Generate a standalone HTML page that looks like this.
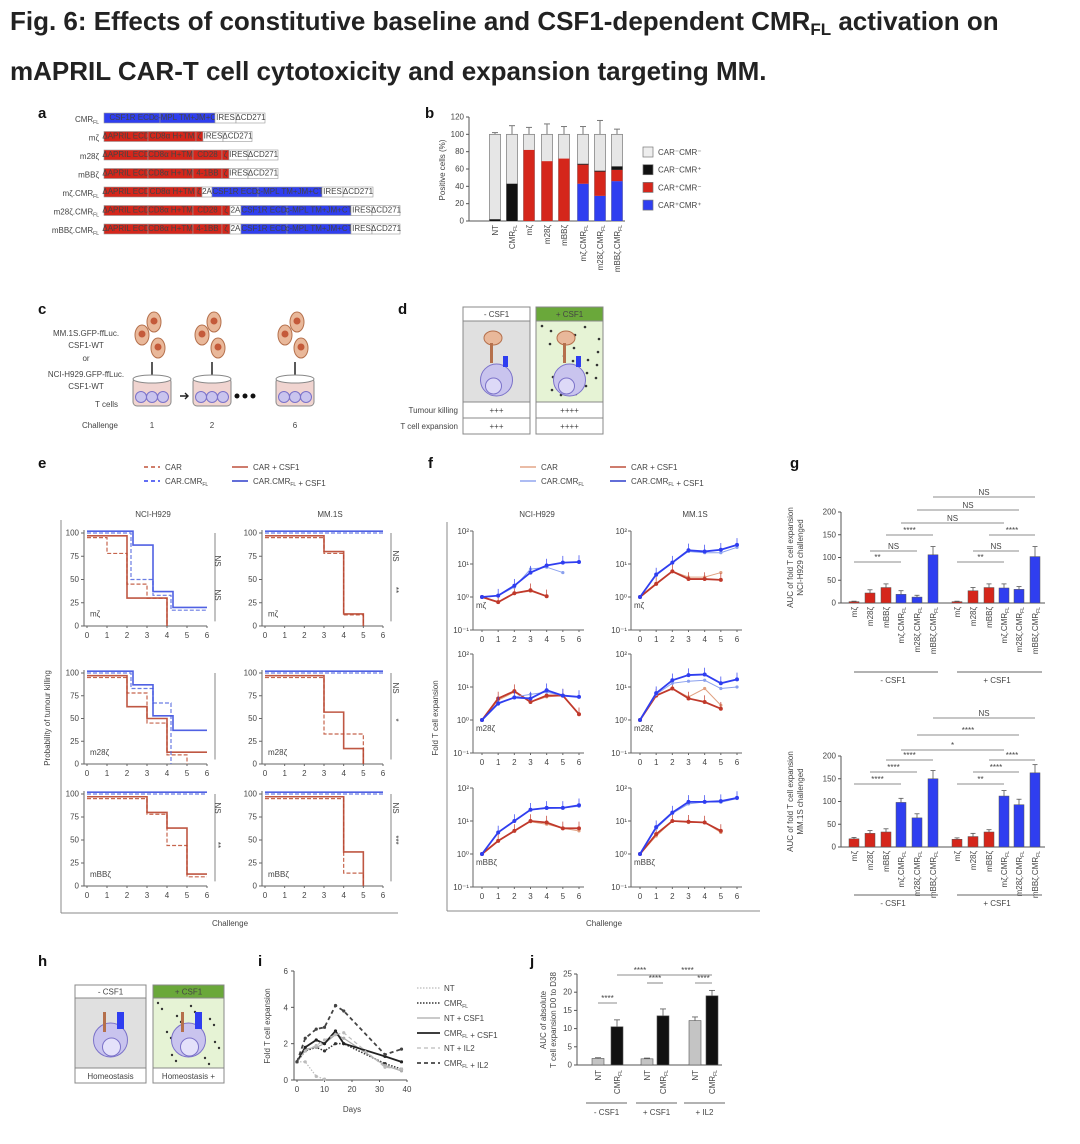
<!DOCTYPE html>
<html><head><meta charset="utf-8"><style>
body{margin:0;background:#fff;width:1080px;height:1144px;overflow:hidden}
svg{display:block;font-family:"Liberation Sans",sans-serif}
.t{font-size:8px;fill:#444}
.pl{font-size:15px;font-weight:bold;fill:#111}
</style></head><body>
<svg id="fig" width="1080" height="1144" viewBox="0 0 1080 1144" xmlns="http://www.w3.org/2000/svg">
<text x="10" y="30" font-size="26" font-weight="bold" fill="#222">Fig. 6: Effects of constitutive baseline and CSF1-dependent CMR<tspan font-size="17" dy="5">FL</tspan><tspan dy="-5"> activation on</tspan></text>
<text x="10" y="80" font-size="26" font-weight="bold" fill="#222">mAPRIL CAR-T cell cytotoxicity and expansion targeting MM.</text>
<text class="pl" x="38" y="118">a</text>
<text class="pl" x="425" y="118">b</text>
<text class="pl" x="38" y="314">c</text>
<text class="pl" x="398" y="314">d</text>
<text class="pl" x="38" y="468">e</text>
<text class="pl" x="428" y="468">f</text>
<text class="pl" x="790" y="468">g</text>
<text class="pl" x="38" y="966">h</text>
<text class="pl" x="258" y="966">i</text>
<text class="pl" x="530" y="966">j</text>
<g id="root"></g>
</svg>
<script>
// ---------- data ----------
const constructNames = ["CMRFL","mζ","m28ζ","mBBζ","mζ.CMRFL","m28ζ.CMRFL","mBBζ.CMRFL"];
const bCategories = ["NT","CMRFL","mζ","m28ζ","mBBζ","mζ.CMRFL","m28ζ.CMRFL","mBBζ.CMRFL"];
const bBlue = [0,0,0,0,0,43,29,46];
const bRed = [0,0,82,69,72,22,28,13];
const bBlack = [2,43,0,0,0,1,1,4];
const bGrayTotal = [100,100,100,100,100,100,100,100];
const bErr = [2,10,8,12,9,9,16,6];
const bTicks = [0,20,40,60,80,100,120];

const kmTicksX = [0,1,2,3,4,5,6];
const kmTicksY = [0,25,50,75,100];
const km1_car = [[0,95],[1,78],[2,45],[3,30],[4,0]];
const km1_carCsf = [[0,97],[2,30],[4,0]];
const km1_cmr = [[0,100],[2.2,50],[3.3,33],[4.2,17]];
const km1_cmrCsf = [[0,102],[2.3,87],[3.3,37],[4.3,20]];
const km2_car = [[0,95],[3,78],[4,12],[5,0]];
const km2_carCsf = [[0,97],[3,80],[4,13],[5,0]];
const km2_cmr = [[0,100]];
const km2_cmrCsf = [[0,102]];
const km3_car = [[0,95],[2,78],[3,45],[4,10],[5,0]];
const km3_carCsf = [[0,97],[2,63],[3,50],[4,13]];
const km3_cmr = [[0,100],[2.2,83],[3.3,67],[4.2,0]];
const km3_cmrCsf = [[0,102],[2.3,87],[3.3,53],[4.3,37]];
const km4_car = [[0,95],[3,33],[5,0]];
const km4_carCsf = [[0,97],[3,57],[4,17],[5,0]];
const km4_cmr = [[0,100]];
const km4_cmrCsf = [[0,102]];
const km5_car = [[0,95],[3,78],[4,44],[5,10]];
const km5_carCsf = [[0,97],[3,80],[4,63],[5,13]];
const km5_cmr = [[0,100]];
const km5_cmrCsf = [[0,102]];
const km6_car = [[0,95],[4,14],[5,0]];
const km6_carCsf = [[0,97],[4,37],[5,0]];
const km6_cmr = [[0,100]];
const km6_cmrCsf = [[0,102]];

const fTicksY = ["10⁻¹","10⁰","10¹","10²"];
const f1_car = [1,0.7,1.3,1.5,1.05];
const f1_carCsf = [1,0.7,1.3,1.6,1.05];
const f1_cmr = [1,1.1,2,7,8,5.5];
const f1_cmrCsf = [1,1.1,2.2,5.5,9,11,11.5];
const f2_car = [1,2.5,6,4,4,5.5];
const f2_carCsf = [1,2.5,6,3.5,3.5,3.3];
const f2_cmr = [1,4.5,11,24,22,22,32];
const f2_cmrCsf = [1,4.8,11,26,24,27,38];
const f3_car = [1,4,7,3.5,5,5.5,1.5];
const f3_carCsf = [1,4.5,7.5,3.5,5.5,5.5,1.5];
const f3_cmr = [1,3,5,6,7,5.5,5];
const f3_cmrCsf = [1,3.2,4.8,4.5,8,5.5,5];
const f4_car = [1,5.5,9,5,9,2.8];
const f4_carCsf = [1,5.5,9,4.5,3.5,2.2];
const f4_cmr = [1,6,13,15,16,9,10];
const f4_cmrCsf = [1,6.5,16,23,24,13,17];
const f5_car = [1,2.5,5,9.5,8,6,5];
const f5_carCsf = [1,2.5,5,10,9,6,6];
const f5_cmr = [1,4.5,10,22,24,25,28];
const f5_cmrCsf = [1,4.5,10,22,25,25,30];
const f6_car = [1,3.5,10,9,9,4.5];
const f6_carCsf = [1,4,10,9.5,9,5];
const f6_cmr = [1,6,17,33,38,37,48];
const f6_cmrCsf = [1,6.5,18,38,38,40,50];

const gCategories = ["mζ","m28ζ","mBBζ","mζ.CMRFL","m28ζ.CMRFL","mBBζ.CMRFL"];
const gTicks = [0,50,100,150,200];
const gNciMinus = [3,22,34,19,13,106];
const gNciPlus = [3,27,34,33,30,102];
const gNciErrMinus = [1,7,8,8,4,18];
const gNciErrPlus = [1,7,8,9,6,22];
const gMmMinus = [18,30,33,98,64,150];
const gMmPlus = [17,23,33,112,93,163];
const gMmErrMinus = [3,6,7,9,9,18];
const gMmErrPlus = [3,7,5,12,12,18];

const iDays = [0,3,7,10,14,17,32,38];
const iTicksX = [0,10,20,30,40];
const iTicksY = [0,2,4,6];
const iNT = [1,1,0.2,0.05];
const iCMR = [1,1.6,1.8,1.6,2,2,0.9,0.6];
const iNTcsf = [1,1.7,1.8,2,2.5,2.3,0.8,0.5];
const iCMRcsf = [1,1.8,2.2,2,2.7,2,1.3,1.0];
const iNTil2 = [1,1.6,1.9,2.2,2.5,2.6,0.7,0.6];
const iCMRil2 = [1,2.3,2.8,2.9,4.1,3.8,1.4,1.7];

const jCategories = ["NT","CMRFL","NT","CMRFL","NT","CMRFL"];
const jValues = [1.8,10.5,1.7,13.5,12.2,19];
const jErr = [0.2,1.9,0.2,1.9,1.0,1.5];
const jTicks = [0,5,10,15,20,25];

// ---------- helpers ----------
const NS="http://www.w3.org/2000/svg";
const root=document.getElementById('root');
function mk(tag,attrs,name,parent){
  const el=document.createElementNS(NS,tag);
  for(const k in attrs) el.setAttribute(k,attrs[k]);
  
  
  (parent||root).appendChild(el);return el;
}
function txt(x,y,s,name,o){o=o||{};const e=mk('text',Object.assign({x:x,y:y,class:'t'},o),name);e.textContent=s;return e;}
function line(x1,y1,x2,y2,name,st,w,dash){return mk('line',{x1,y1,x2,y2,stroke:st||'#666','stroke-width':w||1,'stroke-dasharray':dash||'none'},name);}
function labelSub(el,s){
  el.textContent='';
  const parts=s.split("CMRFL");
  parts.forEach((p,i)=>{el.appendChild(document.createTextNode(p));
    if(i<parts.length-1){el.appendChild(document.createTextNode("CMR"));const t=document.createElementNS(NS,'tspan');t.setAttribute('font-size','5');t.setAttribute('dy','2');t.textContent='FL';el.appendChild(t);const t2=document.createElementNS(NS,'tspan');t2.setAttribute('dy','-2');t2.textContent='';el.appendChild(t2);}});
}
const RED='#d5261b', BLUE='#2f3ef0';

// ---------- panel a ----------
const aSegs=[
 [[BLUE,'CSF1R ECD',104,160],[BLUE,'c-MPL TM+JM+CT',160,215],['#fff','IRES',215,236],['#fff','ΔCD271',236,265]],
 [[RED,'ΔAPRIL ECD',104,148],[RED,'CD8α H+TM',148,196],[RED,'ζ',196,203],['#fff','IRES',203,223],['#fff','ΔCD271',223,252]],
 [[RED,'ΔAPRIL ECD',104,148],[RED,'CD8α H+TM',148,193],[RED,'CD28',193,222],[RED,'ζ',222,229],['#fff','IRES',229,248],['#fff','ΔCD271',248,278]],
 [[RED,'ΔAPRIL ECD',104,148],[RED,'CD8α H+TM',148,193],[RED,'4-1BB',193,222],[RED,'ζ',222,229],['#fff','IRES',229,248],['#fff','ΔCD271',248,278]],
 [[RED,'ΔAPRIL ECD',104,148],[RED,'CD8α H+TM',148,196],[RED,'ζ',196,202],['#fff','2A',202,212],[BLUE,'CSF1R ECD',212,258],[BLUE,'c-MPL TM+JM+CT',258,322],['#fff','IRES',322,343],['#fff','ΔCD271',343,373]],
 [[RED,'ΔAPRIL ECD',104,148],[RED,'CD8α H+TM',148,193],[RED,'CD28',193,222],[RED,'ζ',222,230],['#fff','2A',230,241],[BLUE,'CSF1R ECD',241,287],[BLUE,'c-MPL TM+JM+CT',287,351],['#fff','IRES',351,372],['#fff','ΔCD271',372,400]],
 [[RED,'ΔAPRIL ECD',104,148],[RED,'CD8α H+TM',148,193],[RED,'4-1BB',193,222],[RED,'ζ',222,230],['#fff','2A',230,241],[BLUE,'CSF1R ECD',241,287],[BLUE,'c-MPL TM+JM+CT',287,351],['#fff','IRES',351,372],['#fff','ΔCD271',372,400]]
];
constructNames.forEach((n,i)=>{
  const y=118+i*18.5;
  const t=txt(99,y+4,'', 'construct-label',{'text-anchor':'end','font-size':'10'});labelSub(t,n);
  aSegs[i].forEach(s=>{
    mk('rect',{x:s[2],y:y-5,width:s[3]-s[2],height:10,fill:s[0],stroke:'#999','stroke-width':0.6},'construct-segment');
    txt((s[2]+s[3])/2,y+2,s[1],'segment-label',{'text-anchor':'middle','font-size':'4.5',fill:s[0]=='#fff'?'#555':'#e6a0a0'});
  });
});

// ---------- panel b ----------
(function(){
  const x0=469,yb=221,yt=117,xs=[495,512,529,547,564,583,600,617],bw=11;
  const Y=v=>yb-(v/120)*(yb-yt);
  line(x0,yt,x0,yb,'b-y-axis','#555');line(x0,yb,625,yb,'b-x-axis','#555');
  bTicks.forEach(v=>{line(x0-3,Y(v),x0,Y(v),'b-y-tick','#555');txt(x0-5,Y(v)+2.5,String(v),'b-y-tick-label',{'text-anchor':'end','font-size':'7'});});
  txt(0,0,'Positive cells (%)','b-y-axis-title',{transform:`translate(445,170) rotate(-90)`,'text-anchor':'middle','font-size':'8'});
  bCategories.forEach((c,i)=>{
    const x=xs[i];
    mk('rect',{x:x-bw/2,y:Y(bGrayTotal[i]),width:bw,height:yb-Y(bGrayTotal[i]),fill:'#e6e6e6',stroke:'#777','stroke-width':0.7},'b-bar-gray');
    let acc=0;
    [[bBlue[i],BLUE,'b-bar-blue'],[bRed[i],RED,'b-bar-red'],[bBlack[i],'#111','b-bar-black']].forEach(s=>{
      if(s[0]>0){mk('rect',{x:x-bw/2,y:Y(acc+s[0]),width:bw,height:Y(acc)-Y(acc+s[0]),fill:s[1]},s[2]);acc+=s[0];}
    });
    line(x,Y(100),x,Y(100+bErr[i]),'b-error-bar','#777');line(x-3,Y(100+bErr[i]),x+3,Y(100+bErr[i]),'b-error-cap','#777');
    const t=txt(0,0,'', 'b-category-label',{transform:`translate(${x+3},${yb+4}) rotate(-90)`,'text-anchor':'end','font-size':'7'});labelSub(t,c);
  });
  const leg=[['#eee','CAR⁻CMR⁻'],['#111','CAR⁻CMR⁺'],[RED,'CAR⁺CMR⁻'],[BLUE,'CAR⁺CMR⁺']];
  leg.forEach((l,i)=>{const y=152+i*17.7;mk('rect',{x:643,y:y-5,width:10,height:10,fill:l[0],stroke:'#777','stroke-width':0.7},'b-legend-swatch');
    txt(658,y+3,l[1],'b-legend-entry',{'font-size':'8'});});
})();

// ---------- panel c ----------
(function(){
  ['MM.1S.GFP-ffLuc.','CSF1-WT','or','NCI-H929.GFP-ffLuc.','CSF1-WT','T cells'].forEach((s,i)=>{
    txt(i==5?118:86,[336,348,361,377,389,407][i],s,'c-text',{'text-anchor':i==5?'end':'middle','font-size':'7.5'});});
  txt(118,428,'Challenge','c-challenge-label',{'text-anchor':'end','font-size':'7.5'});
  [[152,'1'],[212,'2'],[295,'6']].forEach((d,k)=>{
    const cx=d[0];
    [[cx-10,335],[cx+2,322],[cx+6,348]].forEach(p=>{mk('ellipse',{cx:p[0],cy:p[1],rx:7,ry:10,fill:'#e9b89a',stroke:'#b5704c'},'c-tumour-cell');mk('circle',{cx:p[0],cy:p[1]-1,r:3.5,fill:'#c45a3a'},'c-tumour-nucleus');});
    line(cx,362,cx,376,'c-arrow','#222',1.5);
    mk('rect',{x:cx-19,y:378,width:38,height:28,rx:4,fill:'#f0d4d0',stroke:'#888'},'c-dish');
    mk('ellipse',{cx:cx,cy:379,rx:19,ry:4,fill:'#fff',stroke:'#888'},'c-dish-rim');
    [-11,0,11].forEach(o=>mk('circle',{cx:cx+o,cy:397,r:5.5,fill:'#c9c4ee',stroke:'#7b72c9'},'c-t-cell'));
    txt(cx,428,d[1],'c-challenge-number',{'text-anchor':'middle','font-size':'7.5'});
  });
  mk('path',{d:'M180 396 l8 0 m-3 -3 l3 3 l-3 3',stroke:'#222',fill:'none','stroke-width':1.4},'c-arrow-right');
  [237,245,253].forEach(x=>mk('circle',{cx:x,cy:396,r:2.5,fill:'#111'},'c-ellipsis-dot'));
})();

// ---------- panel d ----------
(function(){
  [[463,'- CSF1','#fff','#e0e0e0','#555'],[536,'+ CSF1','#6aa83a','#e6f3d5','#fff']].forEach((b,k)=>{
    const x=b[0],w=67;
    mk('rect',{x:x,y:307,width:w,height:14,fill:b[2],stroke:'#888'},'d-header');
    txt(x+w/2,317,b[1],'d-header-text',{'text-anchor':'middle','font-size':'7.5',fill:b[4]});
    mk('rect',{x:x,y:321,width:w,height:81,fill:b[3],stroke:'#888'},'d-illustration');
    if(k==1){for(let i=0;i<22;i++){mk('circle',{cx:x+6+(i*23)%58,cy:326+(i*17)%72,r:1.3,fill:'#333'},'d-csf1-dot');}}
    mk('circle',{cx:x+w/2,cy:380,r:16,fill:'#c9c4ee',stroke:'#7b72c9'},'d-t-cell');
    mk('circle',{cx:x+w/2-3,cy:386,r:8,fill:'#ddd9f7',stroke:'#7b72c9'},'d-t-cell-nucleus');
    mk('ellipse',{cx:x+30,cy:338,rx:9,ry:7,fill:'#e9b89a',stroke:'#b5704c'},'d-tumour-cell');
    mk('rect',{x:x+27,y:343,width:3,height:20,fill:'#b5704c'},'d-car');
    mk('rect',{x:x+40,y:356,width:5,height:11,fill:BLUE},'d-cmr');
    mk('rect',{x:x,y:402,width:w,height:16,fill:'#fff',stroke:'#888'},'d-row-killing');
    mk('rect',{x:x,y:418,width:w,height:16,fill:'#fff',stroke:'#888'},'d-row-expansion');
    txt(x+w/2,413,k?'++++':'+++','d-killing-value',{'text-anchor':'middle','font-size':'7'});
    txt(x+w/2,429,k?'++++':'+++','d-expansion-value',{'text-anchor':'middle','font-size':'7'});
  });
  txt(458,413,'Tumour killing','d-row-label',{'text-anchor':'end','font-size':'7.5'});
  txt(458,429,'T cell expansion','d-row-label',{'text-anchor':'end','font-size':'7.5'});
})();

// ---------- legends e/f ----------
function legendEF(x1,x2,dashCar,light){
  const ys=[467,481];
  const cars=[[x1,ys[0],'#c0543a',dashCar,'CAR'],[x1,ys[1],BLUE,dashCar,'CAR.CMRFL'],[x2,ys[0],'#b8452f','none','CAR + CSF1'],[x2,ys[1],'#2030c8','none','CAR.CMRFL + CSF1']];
  cars.forEach((c,i)=>{line(c[0],c[1],c[0]+16,c[1],'legend-line',light&&i<2?(i?'#8aa0ee':'#e0a080'):c[2],1.4,c[3]);
    const t=txt(c[0]+21,c[1]+3,'','legend-entry',{'font-size':'8'});labelSub(t,c[4]);});
}
legendEF(144,232,'4 3',false);
legendEF(520,610,'none',true);

// ---------- panel e ----------
(function(){
  const cols=[[87,207],[265,383]], rows=[[533,626],[673,764],[794,886]];
  const data=[[km1_car,km1_carCsf,km1_cmr,km1_cmrCsf],[km2_car,km2_carCsf,km2_cmr,km2_cmrCsf],[km3_car,km3_carCsf,km3_cmr,km3_cmrCsf],[km4_car,km4_carCsf,km4_cmr,km4_cmrCsf],[km5_car,km5_carCsf,km5_cmr,km5_cmrCsf],[km6_car,km6_carCsf,km6_cmr,km6_cmrCsf]];
  const labels=['mζ','m28ζ','mBBζ'];
  const styles=[['#c0543a','4 2',1.2],['#b8452f','none',1.6],['#5a6ee0','4 2',1.2],['#3d50e0','none',1.6]];
  txt(153,517,'NCI-H929','e-column-title',{'text-anchor':'middle','font-size':'8'});
  txt(330,517,'MM.1S','e-column-title',{'text-anchor':'middle','font-size':'8'});
  line(61,520,61,913,'e-frame-left','#888');line(61,913,398,913,'e-frame-bottom','#888');
  txt(0,0,'Probability of tumour killing','e-y-axis-title',{transform:'translate(50,718) rotate(-90)','text-anchor':'middle','font-size':'8.5'});
  txt(230,926,'Challenge','e-x-axis-title',{'text-anchor':'middle','font-size':'8.5'});
  for(let r=0;r<3;r++)for(let c=0;c<2;c++){
    const [xa,xb]=cols[c],[yt,yb]=rows[r];
    const X=v=>xa+v/6*(xb-xa), Y=v=>yb-v/100*(yb-yt);
    line(xa-3,Y(0),xb,Y(0),'e-x-axis','#666');line(xa-3,Y(0),xa-3,Y(100)-3,'e-y-axis','#666');
    kmTicksX.forEach(v=>{line(X(v),Y(0),X(v),Y(0)+2,'e-x-tick','#666');txt(X(v),Y(0)+12,String(v),'e-x-tick-label',{'text-anchor':'middle','font-size':'7.5'});});
    kmTicksY.forEach(v=>{line(xa-6,Y(v),xa-3,Y(v),'e-y-tick','#666');txt(xa-8,Y(v)+2.5,String(v),'e-y-tick-label',{'text-anchor':'end','font-size':'7'});});
    txt(xa+3,Y(10),labels[r],'e-construct-label',{'font-size':'8'});
    data[r*2+c].forEach((s,k)=>{
      let d=`M${X(s[0][0])} ${Y(s[0][1])}`;
      for(let i=1;i<s.length;i++){d+=` H${X(s[i][0])} V${Y(s[i][1])}`;}
      if(s[s.length-1][1]>0) d+=` H${X(6)}`;
      mk('path',{d:d,fill:'none',stroke:styles[k][0],'stroke-dasharray':styles[k][1],'stroke-width':styles[k][2],opacity:0.9},'e-km-curve');
    });
    line(xb+8,Y(100),xb+8,Y(5),'e-significance-bracket','#666',0.8);
  }
  [[215,561,'NS'],[215,595,'NS'],[393,556,'NS'],[393,590,'**'],[393,688,'NS'],[393,720,'*'],[393,808,'NS'],[393,840,'***'],[215,808,'NS'],[215,845,'**']].forEach(s=>{
    txt(0,0,s[2],'e-significance-label',{transform:`translate(${s[0]},${s[1]}) rotate(90)`,'text-anchor':'middle','font-size':'7'});});
})();

// ---------- panel f ----------
(function(){
  const cols=[[482,579],[640,737]], rows=[[531,630],[654,753],[788,887]];
  const data=[[f1_car,f1_carCsf,f1_cmr,f1_cmrCsf],[f2_car,f2_carCsf,f2_cmr,f2_cmrCsf],[f3_car,f3_carCsf,f3_cmr,f3_cmrCsf],[f4_car,f4_carCsf,f4_cmr,f4_cmrCsf],[f5_car,f5_carCsf,f5_cmr,f5_cmrCsf],[f6_car,f6_carCsf,f6_cmr,f6_cmrCsf]];
  const labels=['mζ','m28ζ','mBBζ'];
  const styles=[['#e0a080',1],['#c0392b',1.8],['#8aa0ee',1],['#2f3ef0',1.8]];
  txt(537,517,'NCI-H929','f-column-title',{'text-anchor':'middle','font-size':'8'});
  txt(695,517,'MM.1S','f-column-title',{'text-anchor':'middle','font-size':'8'});
  line(447,522,447,911,'f-frame-left','#888');line(447,911,760,911,'f-frame-bottom','#888');
  txt(0,0,'Fold T cell expansion','f-y-axis-title',{transform:'translate(438,718) rotate(-90)','text-anchor':'middle','font-size':'8.5'});
  txt(604,926,'Challenge','f-x-axis-title',{'text-anchor':'middle','font-size':'8.5'});
  for(let r=0;r<3;r++)for(let c=0;c<2;c++){
    const [xa,xb]=cols[c],[yt,yb]=rows[r];
    const X=v=>xa+v/6*(xb-xa), Y=v=>yt+(2-Math.log10(v))/3*(yb-yt);
    line(xa-9,yb,xb+5,yb,'f-x-axis','#666');line(xa-9,yb,xa-9,yt,'f-y-axis','#666');
    kmTicksX.forEach(v=>{line(X(v),yb,X(v),yb+2,'f-x-tick','#666');txt(X(v),yb+12,String(v),'f-x-tick-label',{'text-anchor':'middle','font-size':'7.5'});});
    fTicksY.forEach((s,i)=>{const yy=yb-i*(yb-yt)/3;line(xa-12,yy,xa-9,yy,'f-y-tick','#666');txt(xa-13,yy+3,s,'f-y-tick-label',{'text-anchor':'end','font-size':'7'});});
    txt(xa-6,yb-22,labels[r],'f-construct-label',{'font-size':'8'});
    data[r*2+c].forEach((s,k)=>{
      const pts=s.map((v,i)=>`${X(i)},${Y(v)}`).join(' ');
      mk('polyline',{points:pts,fill:'none',stroke:styles[k][0],'stroke-width':styles[k][1]},'f-series-line');
      s.forEach((v,i)=>{mk('circle',{cx:X(i),cy:Y(v),r:k%2?2:1.6,fill:styles[k][0]},'f-series-point');
        if(i>0&&k%2){line(X(i),Y(v),X(i),Y(v*1.6),'f-error-bar',styles[k][0],0.7);}});
    });
  }
})();

// ---------- panel g ----------
function gChart(yb,yt,minus,plus,errM,errP,sigs,title,gOff){
  const x0=841,xs=[854,870,886,901,917,933,957,973,989,1004,1019,1035],bw=10;
  const Y=v=>yb-v/200*(yb-yt);
  line(x0,yt,x0,yb,'g-y-axis','#555');line(x0,yb,1045,yb,'g-x-axis','#555');
  gTicks.forEach(v=>{line(x0-3,Y(v),x0,Y(v),'g-y-tick','#555');txt(x0-5,Y(v)+2.5,String(v),'g-y-tick-label',{'text-anchor':'end','font-size':'7'});});
  txt(0,0,title[0],'g-y-axis-title',{transform:`translate(793,${(yt+yb)/2}) rotate(-90)`,'text-anchor':'middle','font-size':'7'});
  txt(0,0,title[1],'g-y-axis-title',{transform:`translate(803,${(yt+yb)/2}) rotate(-90)`,'text-anchor':'middle','font-size':'7'});
  const vals=minus.concat(plus), errs=errM.concat(errP);
  vals.forEach((v,i)=>{
    const col=(i%6)<3?RED:BLUE;
    mk('rect',{x:xs[i]-bw/2,y:Y(v),width:bw,height:yb-Y(v),fill:col,stroke:'#555','stroke-width':0.5},'g-bar');
    line(xs[i],Y(v),xs[i],Y(v+errs[i]),'g-error-bar','#555',0.8);line(xs[i]-2.5,Y(v+errs[i]),xs[i]+2.5,Y(v+errs[i]),'g-error-cap','#555',0.8);
    const t=txt(0,0,'','g-category-label',{transform:`translate(${xs[i]+3},${yb+4}) rotate(-90)`,'text-anchor':'end','font-size':'7'});labelSub(t,gCategories[i%6]);
  });
  sigs.forEach(s=>{line(xs[s[0]],s[2],xs[s[1]],s[2],'g-significance-line','#666',0.8);txt((xs[s[0]]+xs[s[1]])/2,s[2]-2,s[3],'g-significance-label',{'text-anchor':'middle','font-size':'7.5'});});
  const gl=yb+gOff;
  line(xs[0],gl,xs[5]+5,gl,'g-group-line','#666');line(xs[6],gl,1042,gl,'g-group-line','#666');
  txt(893,gl+11,'- CSF1','g-group-label',{'text-anchor':'middle','font-size':'7.5'});
  txt(997,gl+11,'+ CSF1','g-group-label',{'text-anchor':'middle','font-size':'7.5'});
}
gChart(603,512,gNciMinus,gNciPlus,gNciErrMinus,gNciErrPlus,
 [[5,11,497,'NS'],[4,10,510,'NS'],[3,9,523,'NS'],[2,5,535,'****'],[8,11,535,'****'],[1,4,551,'NS'],[7,10,551,'NS'],[0,3,562,'**'],[6,9,562,'**']],
 ['AUC of fold T cell expansion','NCI-H929 challenged'],69);
gChart(847,756,gMmMinus,gMmPlus,gMmErrMinus,gMmErrPlus,
 [[5,11,718,'NS'],[4,10,735,'****'],[3,9,750,'*'],[2,5,760,'****'],[8,11,760,'****'],[1,4,772,'****'],[7,10,772,'****'],[0,3,784,'****'],[6,9,784,'**']],
 ['AUC of fold T cell expansion','MM.1S challenged'],48);

// ---------- panel h ----------
(function(){
  [[75,'- CSF1','#fff','#e0e0e0','#555','Homeostasis'],[153,'+ CSF1','#6aa83a','#e6f3d5','#fff','Homeostasis +']].forEach((b,k)=>{
    const x=b[0],w=71;
    mk('rect',{x:x,y:985,width:w,height:13,fill:b[2],stroke:'#888'},'h-header');
    txt(x+w/2,994.5,b[1],'h-header-text',{'text-anchor':'middle','font-size':'7.5',fill:b[4]});
    mk('rect',{x:x,y:998,width:w,height:70,fill:b[3],stroke:'#888'},'h-illustration');
    if(k)for(let i=0;i<20;i++)mk('circle',{cx:x+5+(i*19)%62,cy:1003+(i*13)%62,r:1.2,fill:'#333'},'h-csf1-dot');
    mk('circle',{cx:x+w/2,cy:1040,r:17,fill:'#c9c4ee',stroke:'#7b72c9'},'h-t-cell');
    mk('circle',{cx:x+w/2+1,cy:1047,r:9,fill:'#e4e1fa',stroke:'#7b72c9'},'h-nucleus');
    mk('rect',{x:x+28,y:1012,width:3,height:20,fill:'#b5704c'},'h-car');
    mk('rect',{x:x+42,y:1012,width:7,height:17,fill:BLUE},'h-cmr');
    mk('rect',{x:x,y:1068,width:w,height:15,fill:'#fff',stroke:'#888'},'h-label-box');
    txt(x+w/2,1079,b[5],'h-label',{'text-anchor':'middle','font-size':'8'});
  });
})();

// ---------- panel i ----------
(function(){
  const xa=297,xb=407,yb=1080,yt=971;
  const X=v=>xa+v/40*(xb-xa), Y=v=>yb-v/6*(yb-yt);
  line(xa-3,yb,xb,yb,'i-x-axis','#555');line(xa-3,yb,xa-3,yt,'i-y-axis','#555');
  iTicksX.forEach(v=>{line(X(v),yb,X(v),yb+2,'i-x-tick','#555');txt(X(v),yb+12,String(v),'i-x-tick-label',{'text-anchor':'middle','font-size':'7.5'});});
  iTicksY.forEach(v=>{line(xa-6,Y(v),xa-3,Y(v),'i-y-tick','#555');txt(xa-9,Y(v)+3,String(v),'i-y-tick-label',{'text-anchor':'end','font-size':'7.5'});});
  txt(352,1112,'Days','i-x-axis-title',{'text-anchor':'middle','font-size':'8'});
  txt(0,0,'Fold T cell expansion','i-y-axis-title',{transform:'translate(270,1026) rotate(-90)','text-anchor':'middle','font-size':'7.5'});
  const series=[[iNT,'#bbb','1.5 1.5',1.2,'NT'],[iCMR,'#333','1.5 1.5',1.5,'CMRFL'],[iNTcsf,'#aaa','none',1.2,'NT + CSF1'],[iCMRcsf,'#222','none',1.8,'CMRFL + CSF1'],[iNTil2,'#bbb','4 3',1.2,'NT + IL2'],[iCMRil2,'#444','4 3',1.8,'CMRFL + IL2']];
  series.forEach((s,k)=>{
    const pts=s[0].map((v,i)=>`${X(iDays[i])},${Y(v)}`).join(' ');
    mk('polyline',{points:pts,fill:'none',stroke:s[1],'stroke-width':s[3],'stroke-dasharray':s[2]},'i-series-line');
    s[0].forEach((v,i)=>mk('circle',{cx:X(iDays[i]),cy:Y(v),r:1.6,fill:s[1]},'i-series-point'));
    const ly=988+k*15;
    line(417,ly,440,ly,'i-legend-line',s[1],s[3],s[2]);
    const t=txt(444,ly+3,'','i-legend-entry',{'font-size':'8'});labelSub(t,s[4]);
  });
})();

// ---------- panel j ----------
(function(){
  const x0=577,yb=1065,yt=974,xs=[598,617,647,663,695,712],bw=12;
  const Y=v=>yb-v/25*(yb-yt);
  line(x0,yt,x0,yb,'j-y-axis','#555');line(x0,yb,722,yb,'j-x-axis','#555');
  jTicks.forEach(v=>{line(x0-3,Y(v),x0,Y(v),'j-y-tick','#555');txt(x0-5,Y(v)+2.5,String(v),'j-y-tick-label',{'text-anchor':'end','font-size':'7'});});
  txt(0,0,'AUC of absolute','j-y-axis-title',{transform:'translate(546,1020) rotate(-90)','text-anchor':'middle','font-size':'7.5'});
  txt(0,0,'T cell expansion D0 to D38','j-y-axis-title',{transform:'translate(556,1020) rotate(-90)','text-anchor':'middle','font-size':'7.5'});
  jValues.forEach((v,i)=>{
    const f=i%2?'#111':'#c4c4c4';
    mk('rect',{x:xs[i]-bw/2,y:Y(v),width:bw,height:yb-Y(v),fill:f,stroke:'#555','stroke-width':0.6},'j-bar');
    line(xs[i],Y(v),xs[i],Y(v+jErr[i]),'j-error-bar','#555',0.8);line(xs[i]-3,Y(v+jErr[i]),xs[i]+3,Y(v+jErr[i]),'j-error-cap','#555',0.8);
    const t=txt(0,0,'','j-category-label',{transform:`translate(${xs[i]+3},${yb+5}) rotate(-90)`,'text-anchor':'end','font-size':'7'});labelSub(t,jCategories[i]);
  });
  [[0,1,1003],[1,3,975],[2,3,983],[3,5,975],[4,5,983]].forEach(s=>{line(xs[s[0]],s[2],xs[s[1]],s[2],'j-significance-line','#666',0.8);txt((xs[s[0]]+xs[s[1]])/2,s[2]-2,'****','j-significance-label',{'text-anchor':'middle','font-size':'7.5'});});
  [[586,627,'- CSF1'],[636,677,'+ CSF1'],[684,725,'+ IL2']].forEach(g=>{line(g[0],1103,g[1],1103,'j-group-line','#666');txt((g[0]+g[1])/2,1115,g[2],'j-group-label',{'text-anchor':'middle','font-size':'7.5'});});
})();
</script>
</body></html>
